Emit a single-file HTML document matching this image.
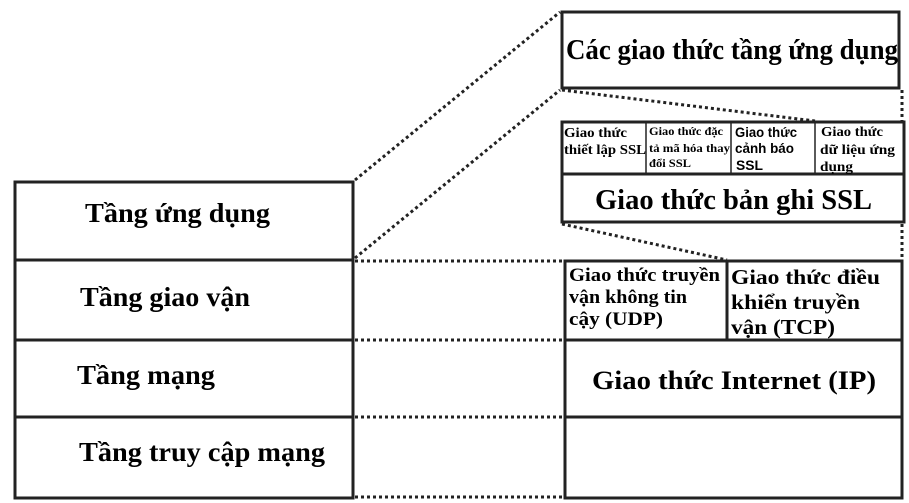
<!DOCTYPE html>
<html><head><meta charset="utf-8"><style>
html,body{margin:0;padding:0;background:#fff;width:909px;height:503px;overflow:hidden}
svg text{font-family:"Liberation Serif",serif;font-weight:bold;fill:#000}
</style></head><body>
<svg width="909" height="503" viewBox="0 0 909 503" xmlns="http://www.w3.org/2000/svg">
<g fill="none" stroke="#222" stroke-width="3">
<rect x="15" y="182" width="338" height="316"/>
<line x1="15" y1="260" x2="353" y2="260"/>
<line x1="15" y1="340" x2="353" y2="340"/>
<line x1="15" y1="417" x2="353" y2="417"/>
<rect x="562" y="12" width="337" height="76"/>
<rect x="562" y="122" width="342" height="100"/>
<line x1="562" y1="174" x2="904" y2="174"/>
<rect x="565" y="261" width="337" height="237"/>
<line x1="565" y1="340" x2="902" y2="340"/>
<line x1="565" y1="417" x2="902" y2="417"/>
<line x1="727" y1="261" x2="727" y2="340"/>
</g>
<g stroke="#222" stroke-width="1.5">
<line x1="646" y1="122" x2="646" y2="174"/>
<line x1="731" y1="122" x2="731" y2="174"/>
<line x1="815" y1="122" x2="815" y2="174"/>
</g>
<g fill="none" stroke="#222" stroke-width="3" stroke-dasharray="3,3">
<line x1="355" y1="180" x2="560" y2="12"/>
<line x1="355" y1="258" x2="560" y2="90"/>
<line x1="562" y1="90" x2="815" y2="121"/>
<line x1="902" y1="90" x2="902" y2="121"/>
<line x1="562" y1="224" x2="727" y2="260"/>
<line x1="902" y1="224" x2="902" y2="260"/>
<line x1="355" y1="261" x2="564" y2="261"/>
<line x1="355" y1="340" x2="564" y2="340"/>
<line x1="355" y1="417" x2="564" y2="417"/>
<line x1="355" y1="497" x2="564" y2="497"/>
</g>
<g lengthAdjust="spacingAndGlyphs">
<text x="85" y="222" font-size="27" textLength="185" lengthAdjust="spacingAndGlyphs">Tầng ứng dụng</text>
<text x="80" y="306" font-size="27" textLength="170" lengthAdjust="spacingAndGlyphs">Tầng giao vận</text>
<text x="77" y="384" font-size="27" textLength="138" lengthAdjust="spacingAndGlyphs">Tầng mạng</text>
<text x="79" y="461" font-size="27" textLength="246" lengthAdjust="spacingAndGlyphs">Tầng truy cập mạng</text>
<text x="566" y="59" font-size="28" textLength="332" lengthAdjust="spacingAndGlyphs">Các giao thức tầng ứng dụng</text>
<text x="595" y="209" font-size="28" textLength="277" lengthAdjust="spacingAndGlyphs">Giao thức bản ghi SSL</text>
<text x="592" y="389" font-size="26" textLength="284" lengthAdjust="spacingAndGlyphs">Giao thức Internet (IP)</text>
</g>
<g font-size="14">
<text x="564" y="137" textLength="63" lengthAdjust="spacingAndGlyphs">Giao thức</text>
<text x="564" y="154" textLength="82" lengthAdjust="spacingAndGlyphs">thiết lập SSL</text>
</g>
<g font-size="12">
<text x="649" y="135" textLength="74" lengthAdjust="spacingAndGlyphs">Giao thức đặc</text>
<text x="649" y="152" textLength="81" lengthAdjust="spacingAndGlyphs">tả mã hóa thay</text>
<text x="649" y="167" textLength="42" lengthAdjust="spacingAndGlyphs">đổi SSL</text>
</g>
<g font-size="14" style="font-weight:normal">
<text x="735" y="137" style="font-family:'Liberation Sans',sans-serif" textLength="62" lengthAdjust="spacingAndGlyphs">Giao thức</text>
<text x="735" y="153" style="font-family:'Liberation Sans',sans-serif" textLength="59" lengthAdjust="spacingAndGlyphs">cảnh báo</text>
<text x="736" y="170" style="font-family:'Liberation Sans',sans-serif" textLength="27" lengthAdjust="spacingAndGlyphs">SSL</text>
</g>
<g font-size="14">
<text x="821" y="136" textLength="62" lengthAdjust="spacingAndGlyphs">Giao thức</text>
<text x="820" y="154" textLength="75" lengthAdjust="spacingAndGlyphs">dữ liệu ứng</text>
<text x="820" y="171" textLength="33" lengthAdjust="spacingAndGlyphs">dụng</text>
</g>
<g font-size="18.5">
<text x="569" y="281" textLength="151" lengthAdjust="spacingAndGlyphs">Giao thức truyền</text>
<text x="569" y="303" textLength="118" lengthAdjust="spacingAndGlyphs">vận không tin</text>
<text x="569" y="325" textLength="94" lengthAdjust="spacingAndGlyphs">cậy (UDP)</text>
</g>
<g font-size="21">
<text x="731" y="284" textLength="149" lengthAdjust="spacingAndGlyphs">Giao thức điều</text>
<text x="731" y="309" textLength="129" lengthAdjust="spacingAndGlyphs">khiển truyền</text>
<text x="731" y="334" textLength="104" lengthAdjust="spacingAndGlyphs">vận (TCP)</text>
</g>
</svg>
</body></html>
